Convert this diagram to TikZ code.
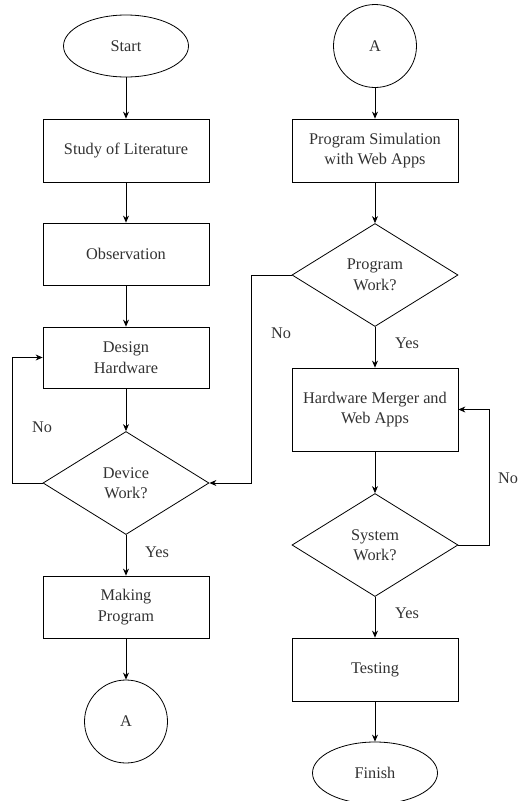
\documentclass[tikz,border=0pt]{standalone}
\usepackage{fontspec}
\setmainfont{Liberation Serif}
\usetikzlibrary{shapes.geometric,arrows.meta}
\definecolor{txt}{RGB}{50,50,50}
\begin{document}
\begin{tikzpicture}[x=1pt,y=-1pt,
  every node/.style={font=\fontsize{16.3}{20.5}\selectfont, text=txt, align=center},
  box/.style={draw, rectangle, minimum width=166pt, inner sep=0pt, line width=0.8pt},
  term/.style={draw, ellipse, minimum width=125pt, minimum height=62pt, inner sep=0pt, line width=0.8pt},
  conn/.style={draw, circle, minimum size=83pt, inner sep=0pt, line width=0.8pt},
  dec/.style={draw, diamond, minimum width=166pt, minimum height=103pt, inner sep=0pt, aspect=1.6, line width=0.8pt},
  arr/.style={-{Stealth[length=7pt,width=6pt]}, line width=0.8pt},
  lbl/.style={font=\fontsize{16.3}{20.5}\selectfont}]
\useasboundingbox (0,0) rectangle (519,801);
% left column
\node[term] (start) at (126,46) {Start};
\node[box, minimum height=63pt] (study) at (126,150.5) {Study of Literature};
\node[box, minimum height=62pt] (obs) at (126,254) {Observation};
\node[box, minimum height=61pt] (design) at (126,357.5) {Design\\Hardware};
\node[dec] (device) at (126,483) {Device\\Work?};
\node[box, minimum height=62pt] (making) at (126,607) {Making\\Program};
\node[conn] (aL) at (126,721.5) {A};
% right column
\node[conn] (aR) at (375,46) {A};
\node[box, minimum height=63pt] (sim) at (375,150.5) {Program Simulation\\with Web Apps};
\node[dec] (pw) at (375,275) {Program\\Work?};
\node[box, minimum height=83pt] (merge) at (375,409.5) {Hardware Merger and\\Web Apps};
\node[dec] (sw) at (375,545) {System\\Work?};
\node[box, minimum height=63pt] (test) at (375,669.5) {Testing};
\node[term] (finish) at (375,773) {Finish};
% corner coordinates
\coordinate (c1) at (12,483);
\coordinate (c2) at (251,275);
\coordinate (c3) at (251,483);
\coordinate (c4) at (489,545);
% connectors left
\draw[arr] (start) -- (study);
\draw[arr] (study) -- (obs);
\draw[arr] (obs) -- (design);
\draw[arr] (design) -- (device);
\draw[arr] (device) -- (making);
\draw[arr] (making) -- (aL);
\draw[arr] (device.west) -- (c1) |- (design.west);
% connectors right
\draw[arr] (aR) -- (sim);
\draw[arr] (sim) -- (pw);
\draw[arr] (pw) -- (merge);
\draw[arr] (merge) -- (sw);
\draw[arr] (sw) -- (test);
\draw[arr] (test) -- (finish);
\draw[arr] (pw.west) -- (c2) -- (c3) -- (device.east);
\draw[arr] (sw.east) -- (c4) |- (merge.east);
% labels
\node[lbl] (no1) at (42,427) {No};
\node[lbl] (yes1) at (157,552) {Yes};
\node[lbl] (no2) at (281,333) {No};
\node[lbl] (yes2) at (407,343) {Yes};
\node[lbl] (no3) at (508,478) {No};
\node[lbl] (yes3) at (407,613) {Yes};
\end{tikzpicture}
\end{document}
